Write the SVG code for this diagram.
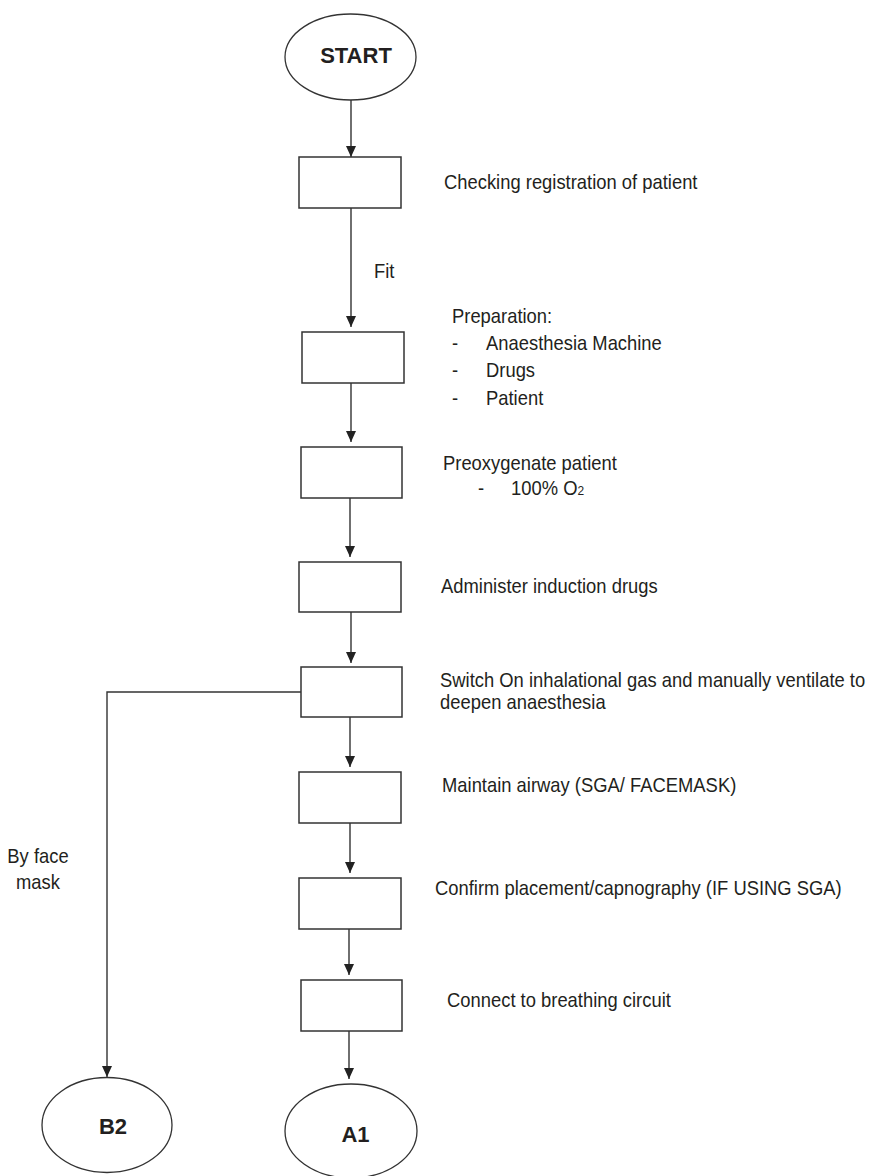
<svg xmlns="http://www.w3.org/2000/svg" width="880" height="1176" viewBox="0 0 880 1176">
<defs>
<marker id="ah" viewBox="0 0 11 10" refX="11" refY="5" markerWidth="11" markerHeight="10" markerUnits="userSpaceOnUse" orient="auto">
<path d="M0,0 L11,5 L0,10 z" fill="#222"/>
</marker>
<style>
.box{fill:#fff;stroke:#333;stroke-width:1.5}
.ell{fill:#fff;stroke:#333;stroke-width:1.3}
.con{fill:none;stroke:#333;stroke-width:1.4;marker-end:url(#ah)}
.t{font-family:"Liberation Sans",Arial,sans-serif;font-size:20px;fill:#231f20}
.b{font-family:"Liberation Sans",Arial,sans-serif;font-size:22px;font-weight:bold;fill:#231f20;text-anchor:middle}
</style>
</defs>
<rect width="880" height="1176" fill="#fff"/>
<g id="connectors">
<line class="con" x1="351" y1="100" x2="351" y2="157"/>
<line class="con" x1="351" y1="208" x2="351" y2="327"/>
<line class="con" x1="351" y1="383" x2="351" y2="442"/>
<line class="con" x1="350" y1="498" x2="350" y2="557"/>
<line class="con" x1="351" y1="612" x2="351" y2="663"/>
<line class="con" x1="350" y1="717" x2="350" y2="767"/>
<line class="con" x1="350" y1="823" x2="350" y2="873"/>
<line class="con" x1="349" y1="927" x2="349" y2="975"/>
<line class="con" x1="349" y1="1031" x2="349" y2="1079"/>
<polyline class="con" points="301,692 107,692 107,1077"/>
<text class="t" transform="translate(374,278) scale(0.92,1)">Fit</text>
<text class="t" transform="translate(38,863) scale(0.92,1)" text-anchor="middle">By face</text>
<text class="t" transform="translate(38,889) scale(0.92,1)" text-anchor="middle">mask</text>
</g>
<g id="start">
<ellipse class="ell" cx="350.5" cy="57" rx="65.5" ry="43"/>
<text class="b" x="356" y="63">START</text>
</g>
<g id="step1">
<rect class="box" x="299" y="157" width="102" height="51"/>
<text class="t" transform="translate(444,189) scale(0.92,1)">Checking registration of patient</text>
</g>
<g id="step2">
<rect class="box" x="302" y="332" width="102" height="51"/>
<text class="t" transform="translate(452,323) scale(0.92,1)">Preparation:</text>
<text class="t" transform="translate(452,350) scale(0.92,1)">-</text><text class="t" transform="translate(486,350) scale(0.92,1)">Anaesthesia Machine</text>
<text class="t" transform="translate(452,377) scale(0.92,1)">-</text><text class="t" transform="translate(486,377) scale(0.92,1)">Drugs</text>
<text class="t" transform="translate(452,405) scale(0.92,1)">-</text><text class="t" transform="translate(486,405) scale(0.92,1)">Patient</text>
</g>
<g id="step3">
<rect class="box" x="301" y="447" width="101" height="51"/>
<text class="t" transform="translate(443,470) scale(0.92,1)">Preoxygenate patient</text>
<text class="t" transform="translate(478,495) scale(0.92,1)">-</text>
<text class="t" transform="translate(511,495) scale(0.92,1)">100% O<tspan font-size="13px">2</tspan></text>
</g>
<g id="step4">
<rect class="box" x="299" y="562" width="102" height="50"/>
<text class="t" transform="translate(441,593) scale(0.92,1)">Administer induction drugs</text>
</g>
<g id="step5">
<rect class="box" x="301" y="667" width="101" height="50"/>
<text class="t" transform="translate(440,687) scale(0.92,1)">Switch On inhalational gas and manually ventilate to</text>
<text class="t" transform="translate(440,709) scale(0.92,1)">deepen anaesthesia</text>
</g>
<g id="step6">
<rect class="box" x="299" y="772" width="102" height="51"/>
<text class="t" transform="translate(442,792) scale(0.92,1)">Maintain airway (SGA/ FACEMASK)</text>
</g>
<g id="step7">
<rect class="box" x="299" y="878" width="102" height="51"/>
<text class="t" transform="translate(435,895) scale(0.92,1)">Confirm placement/capnography (IF USING SGA)</text>
</g>
<g id="step8">
<rect class="box" x="301" y="980" width="101" height="51"/>
<text class="t" transform="translate(447,1007) scale(0.92,1)">Connect to breathing circuit</text>
</g>
<g id="b2">
<ellipse class="ell" cx="107" cy="1125" rx="65" ry="47.5"/>
<text class="b" x="113" y="1134">B2</text>
</g>
<g id="a1">
<ellipse class="ell" cx="351" cy="1131" rx="66" ry="47"/>
<text class="b" x="355.5" y="1142">A1</text>
</g>
</svg>
